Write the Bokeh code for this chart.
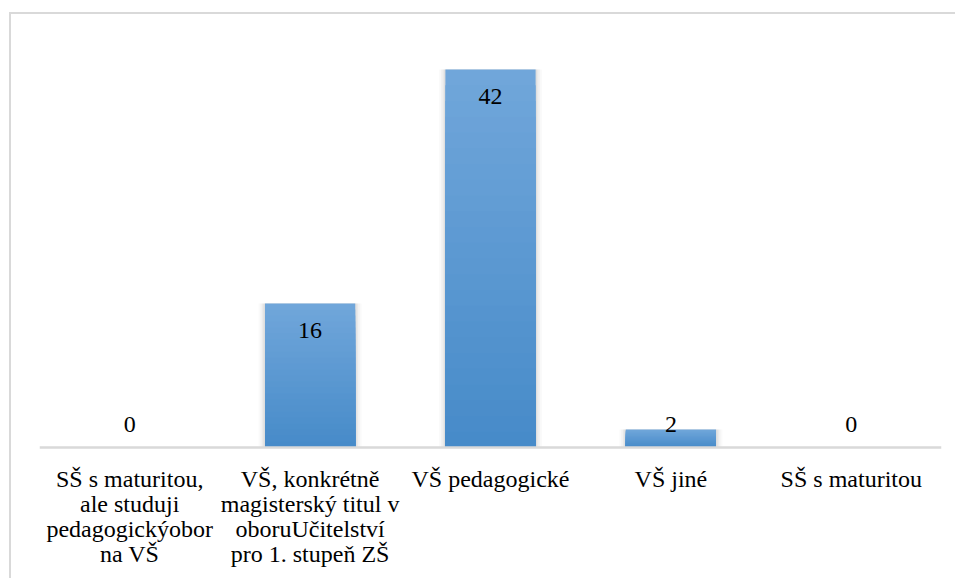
from bokeh.plotting import figure
from bokeh.models import ColumnDataSource, Range1d, FactorRange, Span
from bokeh.core.properties import value
from bokeh.embed import file_html
from bokeh.resources import INLINE

categories = [
    "SŠ s maturitou,\nale studuji\npedagogickýobor\nna VŠ",
    "VŠ, konkrétně\nmagisterský titul v\noboruUčitelství\npro 1. stupeň ZŠ",
    "VŠ pedagogické",
    "VŠ jiné",
    "SŠ s maturitou",
]
counts = [0, 16, 42, 2, 0]
count_labels = ["0", "16", "42", "2", "0"]

FONT = "Liberation Serif"

# layout (pixels): 9 px per unit, frame runs down to the bottom edge
W, H, TOP = 946, 566, 19
PX = 9.0
frame_h = H - TOP
y_end = 46
y_start = y_end - frame_h / PX

p = figure(
    x_range=FactorRange(*categories, range_padding=0),
    y_range=Range1d(y_start, y_end),
    width=W, height=H,
    output_backend="svg", toolbar_location=None,
    min_border_left=28, min_border_right=16,
    min_border_top=TOP, min_border_bottom=0,
    styles={"border-left": "2px solid #d9d9d9", "border-top": "2px solid #d9d9d9",
            "margin-left": "9px", "margin-top": "12px"},
)
p.outline_line_color = None
p.grid.visible = False
p.xaxis.visible = False
p.yaxis.visible = False
p.background_fill_color = "white"
p.border_fill_color = "white"

src = ColumnDataSource(dict(cat=categories, v=counts, lab=count_labels,
                            ly=[max(c - 3.0, 2.6) for c in counts]))

# soft shadow
for w, a in [(0.57, 0.04), (0.55, 0.06), (0.53, 0.08), (0.515, 0.1)]:
    p.vbar(x="cat", top="v", width=w, source=src, fill_color="#7f7f7f",
           fill_alpha=a, line_color=None)

# bars with vertical gradient (light top, dark bottom)
light = (112, 166, 218)
dark = (71, 139, 201)
n = 24
for k in range(n, 0, -1):
    t = (k - 1) / (n - 1)
    col = "#%02x%02x%02x" % tuple(round(d + (l - d) * t) for l, d in zip(light, dark))
    s = ColumnDataSource(dict(cat=categories, top=[c * k / n for c in counts]))
    p.vbar(x="cat", top="top", width=0.5, source=s, fill_color=col, line_color=None)

# category axis line
p.add_layout(Span(location=0, dimension="width", line_color="#d9d9d9", line_width=2.5))

# value labels
p.text(x="cat", y="ly", text="lab", source=src, text_font=value(FONT),
       text_font_size="24px", text_align="center", text_baseline="middle",
       text_color="black")

# category labels, one text per line
lx, ly, lt = [], [], []
for c in categories:
    for j, line in enumerate(c.split("\n")):
        lx.append(c)
        ly.append(-31 / PX - j * 25 / PX)
        lt.append(line)
cat_src = ColumnDataSource(dict(x=lx, y=ly, t=lt))
p.text(x="x", y="y", text="t", source=cat_src, text_font=value(FONT),
       text_font_size="24px", text_align="center", text_baseline="middle",
       text_color="black")

open("out.html", "w").write(file_html(p, INLINE))
